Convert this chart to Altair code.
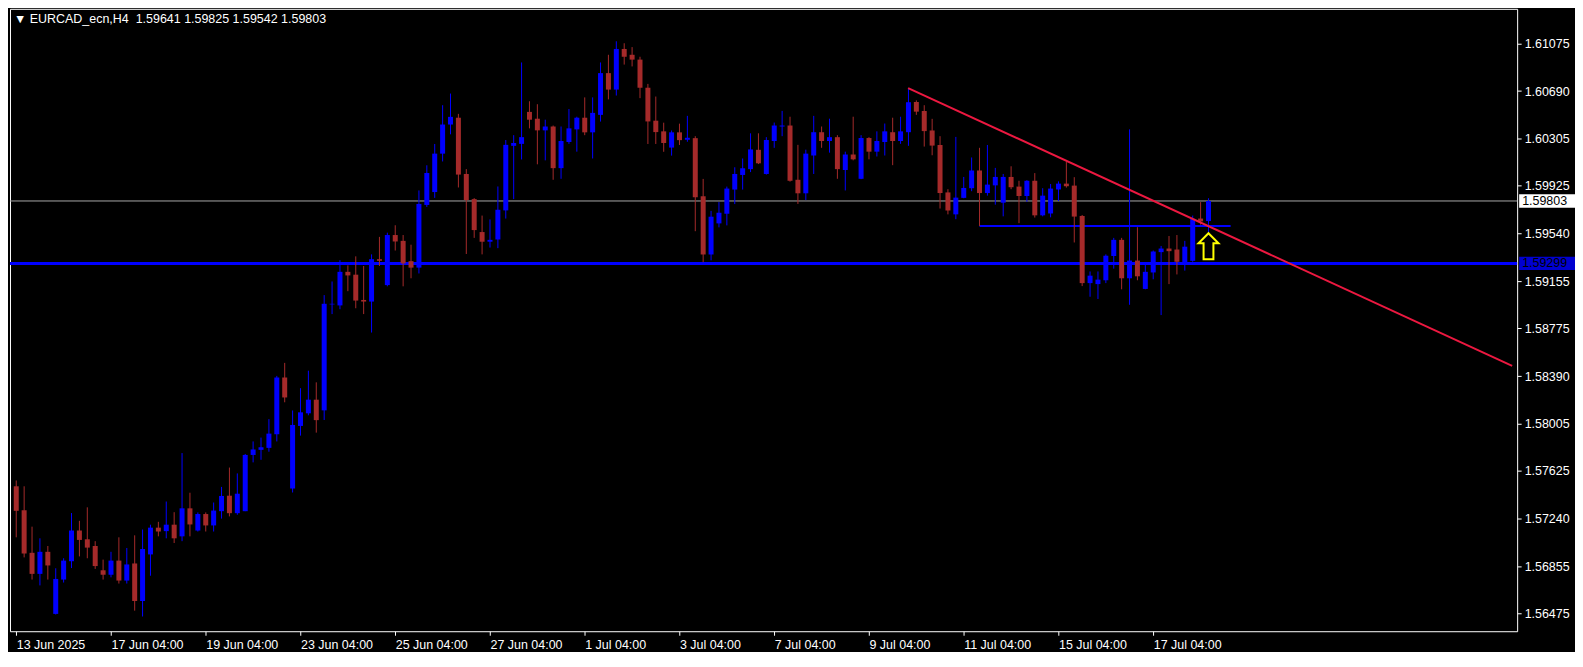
import altair as alt
import pandas as pd

symbol = "EURCAD_ecn,H4"

opens = [1.57500,1.57307,1.56963,1.56793,1.56971,1.56470,1.56747,1.56895,1.57143,1.57072,
         1.57018,1.56822,1.56786,1.56900,1.56739,1.56877,1.56574,1.56950,1.57166,1.57138,
         1.57190,1.57096,1.57322,1.57143,1.57276,1.57184,1.57299,1.57424,1.57283,1.57299,
         1.57753,1.57794,1.57810,1.57920,1.58378,1.57482,1.57987,1.58089,1.58199,1.58113,
         1.58968,1.58960,1.59231,1.59208,1.59004,1.58991,1.59333,1.59124,1.59528,1.59481,
         1.59317,1.59265,1.59771,1.59875,1.60185,1.60420,1.60475,1.60021,1.59818,1.59552,
         1.59474,1.59492,1.59727,1.60248,1.60264,1.60522,1.60467,1.60373,1.60404,1.60068,
         1.60279,1.60381,1.60475,1.60357,1.60498,1.60835,1.60702,1.61030,1.60983,1.60944,
         1.60717,1.60451,1.60365,1.60234,1.60357,1.60297,1.60310,1.59841,1.59371,1.59622,
         1.59700,1.59895,1.60013,1.60060,1.60216,1.60021,1.60287,1.60404,1.60412,1.59974,
         1.59865,1.60170,1.60358,1.60287,1.60318,1.60053,1.60178,1.59982,1.60311,1.60201,
         1.60279,1.60358,1.60287,1.60358,1.60602,1.60529,1.60372,1.60255,1.59872,1.59695,
         1.59828,1.59906,1.60049,1.59867,1.59929,1.59789,1.59997,1.59919,1.59843,1.59966,
         1.59687,1.59702,1.59896,1.59943,1.59927,1.59682,1.59140,1.59132,1.59163,1.59359,
         1.59489,1.59179,1.59322,1.59093,1.59226,1.59390,1.59419,1.59411,1.59309,1.59320,
         1.59661,1.59641]
highs = [1.57547,1.57500,1.57174,1.57080,1.57018,1.56838,1.56919,1.57284,1.57221,1.57330,
         1.57057,1.56908,1.56971,1.57088,1.57002,1.57104,1.57151,1.57190,1.57213,1.57377,
         1.57291,1.57768,1.57448,1.57289,1.57289,1.57369,1.57495,1.57651,1.57604,1.57761,
         1.57862,1.57893,1.58042,1.58391,1.58496,1.58112,1.58292,1.58433,1.58339,1.59043,
         1.59153,1.59325,1.59283,1.59356,1.59278,1.59372,1.59513,1.59547,1.59607,1.59528,
         1.59450,1.59888,1.60091,1.60263,1.60576,1.60670,1.60506,1.60060,1.59826,1.59685,
         1.59654,1.59920,1.60295,1.60334,1.60921,1.60608,1.60584,1.60459,1.60412,1.60404,
         1.60545,1.60483,1.60639,1.60639,1.60921,1.60983,1.61092,1.61076,1.61045,1.60967,
         1.60748,1.60646,1.60435,1.60372,1.60427,1.60490,1.60326,1.59981,1.59723,1.59794,
         1.59919,1.60075,1.60146,1.60349,1.60349,1.60318,1.60436,1.60530,1.60483,1.60256,
         1.60217,1.60490,1.60404,1.60467,1.60334,1.60201,1.60483,1.60334,1.60318,1.60365,
         1.60428,1.60475,1.60483,1.60709,1.60615,1.60576,1.60466,1.60326,1.59898,1.60320,
         1.59997,1.60154,1.60232,1.60255,1.60070,1.60021,1.60083,1.59966,1.59971,1.60028,
         1.59906,1.59940,1.59961,1.60120,1.59995,1.59690,1.59234,1.59234,1.59372,1.59505,
         1.59505,1.60381,1.59591,1.59286,1.59403,1.59440,1.59520,1.59528,1.59481,1.59685,
         1.59794,1.59825]
lows = [1.57088,1.56926,1.56747,1.56700,1.56747,1.56465,1.56723,1.56840,1.56934,1.56919,
        1.56833,1.56747,1.56765,1.56715,1.56715,1.56496,1.56449,1.56778,1.57096,1.57080,
        1.57042,1.57057,1.57096,1.57135,1.57135,1.57135,1.57239,1.57257,1.57270,1.57299,
        1.57693,1.57714,1.57779,1.57862,1.58178,1.57450,1.57909,1.58073,1.57933,1.58035,
        1.58890,1.58929,1.59075,1.58937,1.58890,1.58741,1.59278,1.59114,1.59403,1.59114,
        1.59179,1.59218,1.59755,1.59828,1.60122,1.60341,1.59912,1.59375,1.59505,1.59372,
        1.59427,1.59422,1.59661,1.59818,1.60138,1.60389,1.60099,1.60131,1.59974,1.59982,
        1.60264,1.60201,1.60334,1.60146,1.60444,1.60623,1.60654,1.60904,1.60889,1.60633,
        1.60263,1.60263,1.60200,1.60169,1.60255,1.60281,1.59559,1.59309,1.59324,1.59590,
        1.59606,1.59778,1.59895,1.60036,1.60101,1.60016,1.60232,1.60326,1.59959,1.59779,
        1.59810,1.60021,1.60232,1.60193,1.59982,1.59888,1.60131,1.59979,1.60139,1.60162,
        1.60170,1.60092,1.60264,1.60248,1.60498,1.60242,1.60172,1.59742,1.59695,1.59656,
        1.59825,1.59882,1.59601,1.59846,1.59773,1.59679,1.59898,1.59624,1.59796,1.59669,
        1.59679,1.59671,1.59802,1.59911,1.59468,1.59116,1.59030,1.59012,1.59140,1.59257,
        1.59090,1.58965,1.59163,1.59090,1.59171,1.58882,1.59132,1.59210,1.59241,1.59312,
        1.59612,1.59542]
closes = [1.57302,1.56958,1.56793,1.56971,1.56861,1.56752,1.56900,1.57143,1.57067,1.57005,
          1.56856,1.56786,1.56900,1.56739,1.56869,1.56574,1.56994,1.57166,1.57135,1.57190,
          1.57080,1.57322,1.57192,1.57276,1.57184,1.57304,1.57422,1.57283,1.57440,1.57753,
          1.57797,1.57815,1.57925,1.58378,1.58217,1.57995,1.58097,1.58199,1.58034,1.58973,
          1.58973,1.59231,1.59202,1.58999,1.58991,1.59333,1.59320,1.59528,1.59476,1.59299,
          1.59265,1.59779,1.60029,1.60185,1.60420,1.60482,1.60016,1.59810,1.59568,1.59474,
          1.59489,1.59732,1.60256,1.60271,1.60318,1.60459,1.60373,1.60404,1.60068,1.60287,
          1.60389,1.60475,1.60357,1.60514,1.60835,1.60702,1.61030,1.60967,1.60944,1.60717,
          1.60445,1.60359,1.60271,1.60357,1.60294,1.60313,1.59833,1.59371,1.59676,1.59708,
          1.59903,1.60021,1.60067,1.60219,1.60107,1.60295,1.60412,1.60412,1.59966,1.59865,
          1.60185,1.60358,1.60287,1.60318,1.60060,1.60178,1.60139,1.60311,1.60201,1.60287,
          1.60365,1.60287,1.60365,1.60600,1.60524,1.60367,1.60250,1.59867,1.59726,1.59830,
          1.59908,1.60049,1.59867,1.59935,1.59997,1.59997,1.59914,1.59843,1.59966,1.59687,
          1.59846,1.59903,1.59943,1.59922,1.59677,1.59140,1.59200,1.59168,1.59361,1.59489,
          1.59179,1.59322,1.59195,1.59231,1.59395,1.59419,1.59398,1.59312,1.59434,1.59659,
          1.59638,1.59803]

date_ticks = [0, 12, 24, 36, 48, 60, 72, 84, 96, 108, 120, 132, 144]
date_labels = ["13 Jun 2025", "17 Jun 04:00", "19 Jun 04:00", "23 Jun 04:00", "25 Jun 04:00",
               "27 Jun 04:00", "1 Jul 04:00", "3 Jul 04:00", "7 Jul 04:00", "9 Jul 04:00",
               "11 Jul 04:00", "15 Jul 04:00", "17 Jul 04:00"]
price_ticks = [1.61075, 1.60690, 1.60305, 1.59925, 1.59540, 1.59155, 1.58775,
               1.58390, 1.58005, 1.57625, 1.57240, 1.56855, 1.56475]

current_price = 1.59803
support_level = 1.59299
range_level = 1.59601
range_start = [122]
range_end = [153.8]
trend_x = [112.96, 189.46]
trend_y = [1.60714, 1.58472]
arrow_x = [151]
arrow_y = [1.59438]

x_domain = [-0.16, 189.46]
y_domain = [1.56330, 1.61354]

W, H = 1511, 624
FONT = "Liberation Sans"
FS = 12.5
BULL = "#0000FF"
BEAR = "#A52A2A"

candles = pd.DataFrame({
    "i": list(range(len(opens))),
    "o": opens, "h": highs, "l": lows, "c": closes,
})
candles["dir"] = ["up" if c >= o else "down" for o, c in zip(opens, closes)]

xs = alt.Scale(domain=x_domain, nice=False, zero=False)
ys = alt.Scale(domain=y_domain, nice=False, zero=False)
color = alt.Color("dir:N", scale=alt.Scale(domain=["up", "down"], range=[BULL, BEAR]), legend=None)

label_expr = "[" + ",".join("'" + s + "'" for s in date_labels) + "][round(datum.value/12)]"

x_axis = alt.Axis(values=date_ticks, labelExpr=label_expr, labelAlign="left", labelColor="white",
                  tickColor="white", tickSize=4, domain=False, grid=False, title=None,
                  labelFont=FONT, labelFontSize=FS, labelPadding=3, labelOverlap=False,
                  labelFlush=False, labelBound=False)
y_axis = alt.Axis(orient="right", values=price_ticks, format=".5f", labelColor="white",
                  tickColor="white", tickSize=4, domain=False, grid=False, title=None,
                  labelFont=FONT, labelFontSize=FS, labelPadding=3, labelOverlap=False,
                  labelBound=False, labelFlush=False)


def X(field):
    return alt.X(field, scale=xs, axis=x_axis)


def Y(field):
    return alt.Y(field, scale=ys, axis=y_axis)


base = alt.Chart(candles)

wicks = base.mark_rule(strokeWidth=1).encode(
    x=X("i:Q"), y=Y("l:Q"), y2="h:Q", color=color)
bodies = base.mark_bar(width=5).encode(
    x=X("i:Q"), y=Y("o:Q"), y2="c:Q", color=color)

cur_df = pd.DataFrame({"p": [current_price]})
sup_df = pd.DataFrame({"p": [support_level]})
rng_df = pd.DataFrame({"x0": range_start, "x1": range_end, "p": [range_level]})
trend_df = pd.DataFrame({"x": trend_x, "p": trend_y})
arrow_df = pd.DataFrame({"x": arrow_x, "p": arrow_y})

cur_line = alt.Chart(cur_df).mark_rule(color="#A8A8A8", strokeWidth=1).encode(y=Y("p:Q"))
sup_line = alt.Chart(sup_df).mark_rule(color="#0000FF", strokeWidth=3).encode(y=Y("p:Q"))
rng_line = alt.Chart(rng_df).mark_rule(color="#0000FF", strokeWidth=2).encode(
    x=X("x0:Q"), x2="x1:Q", y=Y("p:Q"))
trend = alt.Chart(trend_df).mark_line(color="#EC1840", strokeWidth=2).encode(
    x=X("x:Q"), y=Y("p:Q"))

arrow_path = "M0,-1 L0.77,-0.23 L0.38,-0.23 L0.38,1 L-0.38,1 L-0.38,-0.23 L-0.77,-0.23 Z"
arrow = alt.Chart(arrow_df).mark_point(shape=arrow_path, size=676, filled=True, fill="#000000",
                                       stroke="#FFFF00", strokeWidth=2, opacity=1).encode(
    x=X("x:Q"), y=Y("p:Q"))

title_text = "\u25BC " + symbol + "\u00a0\u00a0" + " ".join(
    f"{v:.5f}" for v in [opens[-1], highs[-1], lows[-1], closes[-1]])
title_df = pd.DataFrame({"t": [title_text]})
title = alt.Chart(title_df).mark_text(align="left", baseline="middle", color="white",
                                      font=FONT, fontSize=FS).encode(
    x=alt.value(4), y=alt.value(10), text="t:N")

half = 0.00054


def price_box(df, fill, text_color):
    box = alt.Chart(df).transform_calculate(lo=f"datum.p - {half}", hi=f"datum.p + {half}").mark_rect(
        fill=fill).encode(
        x=alt.value(W + 2), x2=alt.value(W + 58),
        y=Y("lo:Q"), y2="hi:Q")
    txt = alt.Chart(df).transform_calculate(lbl="format(datum.p, '.5f')").mark_text(
        align="left", baseline="middle", color=text_color, font=FONT, fontSize=FS).encode(
        x=alt.value(W + 5), y=Y("p:Q"), text="lbl:N")
    return box + txt


chart = alt.layer(
    cur_line, sup_line, rng_line, wicks, bodies, trend, arrow, title,
    price_box(cur_df, "#FFFFFF", "#000000"),
    price_box(sup_df, "#0000D0", "#000000"),
).properties(
    width=W, height=H, background="#000000", padding=0
).configure_view(
    stroke="#FFFFFF", strokeWidth=1
)

chart.save("out.html", embed_options={"renderer": "svg", "actions": False})
